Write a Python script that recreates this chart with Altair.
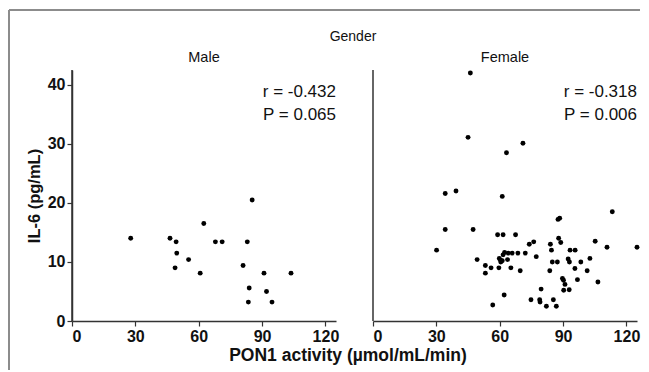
import altair as alt
import pandas as pd

genders = ["Male", "Female"]

male_pon1 = [27.8, 46.4, 49.3, 49.6, 48.8, 55.2, 60.7, 62.4, 67.9, 71.1, 81.0,
             83.0, 85.3, 83.9, 83.5, 90.9, 92.1, 94.7, 103.7]
male_il6 = [14.0, 14.0, 13.4, 11.5, 9.0, 10.4, 8.1, 16.5, 13.4, 13.4, 9.4,
            13.4, 20.5, 5.6, 3.2, 8.1, 5.0, 3.2, 8.1]

female_pon1 = [46.1, 45.0, 71.0, 63.2, 34.2, 39.3, 61.2, 113.3, 88.4, 87.6,
               34.2, 47.4, 59.0, 61.6, 67.5, 30.1, 49.3, 53.2, 53.2, 55.9,
               56.7, 59.6, 59.8, 60.4, 61.2, 60.5, 61.6, 62.3, 62.1, 63.7,
               64.0, 65.3, 65.9, 68.6, 69.7, 72.1, 74.0, 76.1, 77.3, 79.6,
               74.8, 78.9, 79.1, 82.1, 84.0, 84.5, 83.7, 84.9, 87.3, 85.4,
               86.8, 87.9, 88.9, 89.7, 90.2, 90.9, 90.3, 92.9, 92.4, 93.0,
               93.3, 95.7, 95.6, 96.8, 98.4, 101.4, 102.7, 105.2, 106.5, 110.8,
               125.0]
female_il6 = [42.0, 31.1, 30.1, 28.5, 21.6, 22.0, 21.1, 18.5, 17.4, 17.2,
              15.5, 15.5, 14.6, 14.6, 14.6, 12.0, 10.4, 9.4, 8.1, 9.0,
              2.7, 9.0, 10.6, 10.3, 10.2, 10.0, 11.2, 11.6, 4.4, 10.4,
              11.5, 9.0, 11.5, 11.5, 8.5, 11.5, 13.0, 13.4, 10.9, 5.4,
              3.6, 3.6, 3.2, 2.5, 13.0, 12.0, 8.5, 10.0, 10.0, 3.6,
              2.5, 14.0, 13.3, 7.2, 6.9, 6.2, 5.2, 5.3, 10.5, 10.0,
              12.0, 12.0, 8.9, 7.0, 10.0, 8.5, 10.6, 13.5, 6.6, 12.5,
              12.5]

r_labels = ["r = -0.432", "r = -0.318"]
p_labels = ["P = 0.065", "P = 0.006"]
facet_title = "Gender"
x_title = "PON1 activity (µmol/mL/min)"
y_title = "IL-6 (pg/mL)"

x_ticks = [0, 30, 60, 90, 120]
y_ticks = [0, 10, 20, 30, 40]

pts = pd.DataFrame({
    "gender": ["Male"] * len(male_pon1) + ["Female"] * len(female_pon1),
    "pon1": male_pon1 + female_pon1,
    "il6": male_il6 + female_il6,
    "kind": "pt",
})
ann = pd.DataFrame({"gender": genders, "r": r_labels, "p": p_labels,
                    "ftitle": facet_title, "xtitle": x_title, "kind": "ann"})
df = pd.concat([pts, ann], ignore_index=True)

FONT = "Liberation Sans"

x = alt.X("pon1:Q", scale=alt.Scale(domain=[0, 125], nice=False),
          axis=alt.Axis(values=x_ticks, title=None))
y = alt.Y("il6:Q", scale=alt.Scale(domain=[0, 42.5], nice=False),
          axis=alt.Axis(values=y_ticks, title=y_title, titlePadding=5))

ANN = "datum.kind == 'ann'"
FIRST = ANN + " && datum.gender == 'Male'"

# decorative figure frame (left and top edges), drawn once from the first panel
frame_left = alt.Chart().mark_rule(color="#8c8c8c", strokeWidth=2).encode(
    x=alt.value(-63), y=alt.value(-60), y2=alt.value(300)).transform_filter(FIRST)
frame_top = alt.Chart().mark_rule(color="#8c8c8c", strokeWidth=2).encode(
    x=alt.value(-63), x2=alt.value(568), y=alt.value(-60)).transform_filter(FIRST)

rline = alt.Chart().mark_rule(color="#333", strokeWidth=1.5).encode(
    x=alt.datum(0)).transform_filter(ANN)
points = alt.Chart().mark_circle(size=24, color="black", opacity=1).encode(
    x=x, y=y).transform_filter("datum.kind == 'pt'")
rtext = alt.Chart().mark_text(align="right", baseline="middle", fontSize=17, font=FONT, color="#111").encode(
    text="r:N", x=alt.value(264), y=alt.value(22)).transform_filter(ANN)
ptext = alt.Chart().mark_text(align="right", baseline="middle", fontSize=17, font=FONT, color="#111").encode(
    text="p:N", x=alt.value(264), y=alt.value(45)).transform_filter(ANN)
gtext = alt.Chart().mark_text(align="center", baseline="middle", fontSize=14, font=FONT, color="#111").encode(
    text="ftitle:N", x=alt.value(281), y=alt.value(-33)).transform_filter(FIRST)
xtext = alt.Chart().mark_text(align="center", baseline="middle", fontSize=17.5, fontWeight="bold",
                              font=FONT, color="#111").encode(
    text="xtitle:N", x=alt.value(276), y=alt.value(286)).transform_filter(FIRST)

layered = alt.layer(frame_left, frame_top, rline, points, rtext, ptext, gtext, xtext,
                    data=df).properties(width=264, height=251)

chart = layered.facet(
    column=alt.Column("gender:N", sort=genders, title=None,
                      header=alt.Header(labelFont=FONT, labelFontSize=14.5, labelColor="#111",
                                        labelPadding=5)),
    spacing=37,
    bounds="flush",
).configure(
    background="white",
    padding={"left": 0, "top": 1, "right": 0, "bottom": 0},
).configure_view(stroke=None).configure_axis(
    grid=False, domainColor="#333", domainWidth=1.5, tickColor="#333", tickWidth=1.2,
    tickSize=5, labelFont=FONT, labelFontSize=16, labelFontWeight="bold", labelColor="#111",
    titleFont=FONT, titleFontSize=16.5, titleFontWeight="bold", titleColor="#111",
    labelPadding=2,
)

chart.save("out.html", embed_options={"renderer": "svg", "actions": False})
